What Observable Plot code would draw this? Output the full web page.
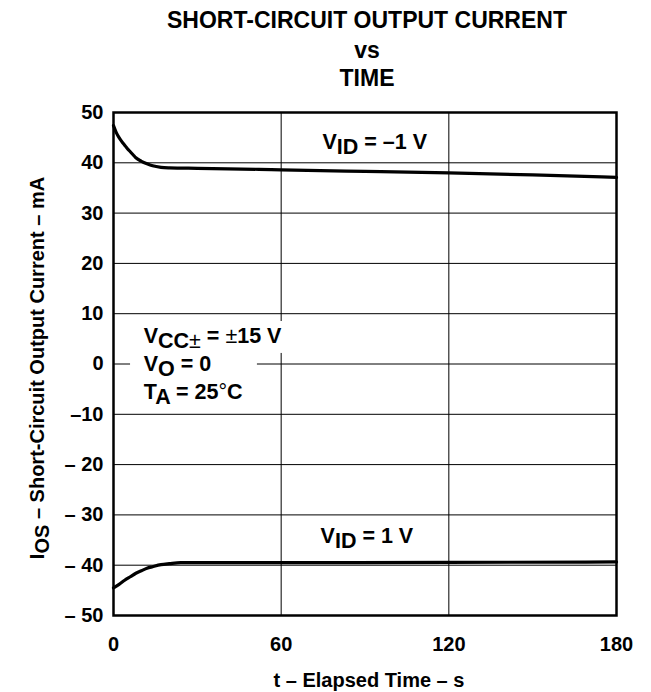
<!DOCTYPE html>
<html>
<head>
<meta charset="utf-8">
<script src="https://cdn.jsdelivr.net/npm/d3@7"></script>
<script src="https://cdn.jsdelivr.net/npm/@observablehq/plot@0.6"></script>
<style>
  body { margin: 0; background: #fff; }
</style>
</head>
<body>
<div id="chart"></div>
<script>
// ---- texts ----
const titleLines = ["SHORT-CIRCUIT OUTPUT CURRENT", "vs", "TIME"];
const xLabel = "t – Elapsed Time – s";
const yLabel = "I{OS} – Short-Circuit Output Current – mA";

// ---- ticks ----
const xTicks = [0, 60, 120, 180];
const yTicks = [-50, -40, -30, -20, -10, 0, 10, 20, 30, 40, 50];
const yTickLabels = ["– 50", "– 40", "– 30", "– 20", "–10", "0", "10", "20", "30", "40", "50"];
const xGrid = [60, 120];
const yGrid = [-40, -30, -20, -10, 0, 10, 20, 30, 40];

// ---- series (t in s, IOS in mA) ----
const vidMinus1T = [0, 1, 2, 3, 4, 5, 6, 7, 8, 10, 12, 14, 17, 20, 30, 52, 60, 90, 120, 150, 180];
const vidMinus1I = [47.4, 46.0, 45.0, 44.2, 43.5, 42.8, 42.2, 41.6, 41.0, 40.3, 39.8, 39.4, 39.1, 39.0, 38.9, 38.7, 38.6, 38.3, 38.0, 37.6, 37.1];
const vidPlus1T = [0, 2, 4, 6, 8, 10, 12, 14, 17, 20, 24, 60, 120, 180];
const vidPlus1I = [-44.5, -43.8, -43.0, -42.3, -41.6, -41.1, -40.6, -40.3, -39.9, -39.7, -39.5, -39.5, -39.45, -39.35];

// ---- annotations (positions in data units) ----
const annoLabels = ["V{ID} = –1 V", "V{ID} = 1 V", "V{CC±} = ±15 V", "V{O} = 0", "T{A} = 25°C"];
const annoT = [74.8, 74.1, 10.8, 10.8, 10.8];
const annoI = [42.8, -35.5, 4.1, -1.3, -6.9];
// white backgrounds behind the condition block
const maskT1 = [6.1, 6.1];
const maskT2 = [63.3, 51.5];
const maskI1 = [8.45, 2.1];
const maskI2 = [2.1, -3.9];

const seriesA = vidMinus1T.map((t, i) => ({t, i: vidMinus1I[i]}));
const seriesB = vidPlus1T.map((t, i) => ({t, i: vidPlus1I[i]}));
const annos = annoLabels.map((label, k) => ({label, t: annoT[k], i: annoI[k]}));
const masks = maskT1.map((_, k) => ({t1: maskT1[k], t2: maskT2[k], i1: maskI1[k], i2: maskI2[k]}));
const titles = titleLines.map((s, k) => ({s, k}));
const titleDy = [-85, -55, -27];

const FONT = "'Liberation Sans', Arial, Helvetica, sans-serif";

const chart = Plot.plot({
  width: 651,
  height: 692,
  marginLeft: 113,
  marginRight: 35,
  marginTop: 112,
  marginBottom: 77,
  style: {fontFamily: FONT, fontWeight: "bold", fontSize: "20px", color: "#000", background: "#fff"},
  x: {domain: [0, 180]},
  y: {domain: [-50, 50]},
  marks: [
    Plot.ruleY(yGrid, {stroke: "#000", strokeWidth: 1}),
    Plot.ruleX(xGrid, {stroke: "#000", strokeWidth: 1}),
    Plot.rect(masks, {x1: "t1", x2: "t2", y1: "i1", y2: "i2", fill: "#fff"}),
    Plot.line(seriesA, {x: "t", y: "i", stroke: "#000", strokeWidth: 3.2, curve: "monotone-x"}),
    Plot.line(seriesB, {x: "t", y: "i", stroke: "#000", strokeWidth: 3.2, curve: "monotone-x"}),
    Plot.frame({stroke: "#000", strokeWidth: 2.5}),
    Plot.axisX({ticks: xTicks, tickSize: 0, tickPadding: 21, fontSize: 20, label: null, tickFormat: d => String(d)}),
    Plot.axisY({ticks: yTicks, tickSize: 0, tickPadding: 10, fontSize: 20, label: null,
      tickFormat: d => yTickLabels[yTicks.indexOf(d)]}),
    Plot.text(annos, {x: "t", y: "i", text: "label", textAnchor: "start", lineAnchor: "bottom", fontSize: 21.5, fill: "#000"}),
    ...titles.map(d => Plot.text([d.s], {frameAnchor: "top", textAnchor: "middle", dy: titleDy[d.k], dx: 2, lineAnchor: "bottom", fontSize: 23, fill: "#000"})),
    Plot.text([xLabel], {frameAnchor: "bottom", textAnchor: "middle", dy: 71, dx: 4, lineAnchor: "bottom", fontSize: 20, fill: "#000"}),
    Plot.text([yLabel], {frameAnchor: "left", textAnchor: "middle", dx: -70, dy: 4, rotate: -90, lineAnchor: "bottom", fontSize: 20, fill: "#000"})
  ]
});

// rich text: {..} = subscript, ± and ° drawn in regular weight
const NS = "http://www.w3.org/2000/svg";
function richify(el, shift) {
  const s = el.textContent;
  const parts = s.split(/(\{[^}]*\})/).filter(p => p !== "");
  el.textContent = "";
  let shifted = false;
  for (const p of parts) {
    const isSub = p.startsWith("{");
    const txt = isSub ? p.slice(1, -1) : p;
    const ts = document.createElementNS(NS, "tspan");
    if (isSub !== shifted) { ts.setAttribute("dy", isSub ? shift : -shift); shifted = isSub; }
    for (const q of txt.split(/([±°])/).filter(Boolean)) {
      if (/[±°]/.test(q)) {
        const t2 = document.createElementNS(NS, "tspan");
        t2.setAttribute("font-weight", "normal");
        t2.textContent = q;
        ts.appendChild(t2);
      } else {
        ts.appendChild(document.createTextNode(q));
      }
    }
    el.appendChild(ts);
  }
}
chart.querySelectorAll("text").forEach(el => {
  if (/[{±°]/.test(el.textContent)) richify(el, 5);
});

document.getElementById("chart").appendChild(chart);
</script>
</body>
</html>
